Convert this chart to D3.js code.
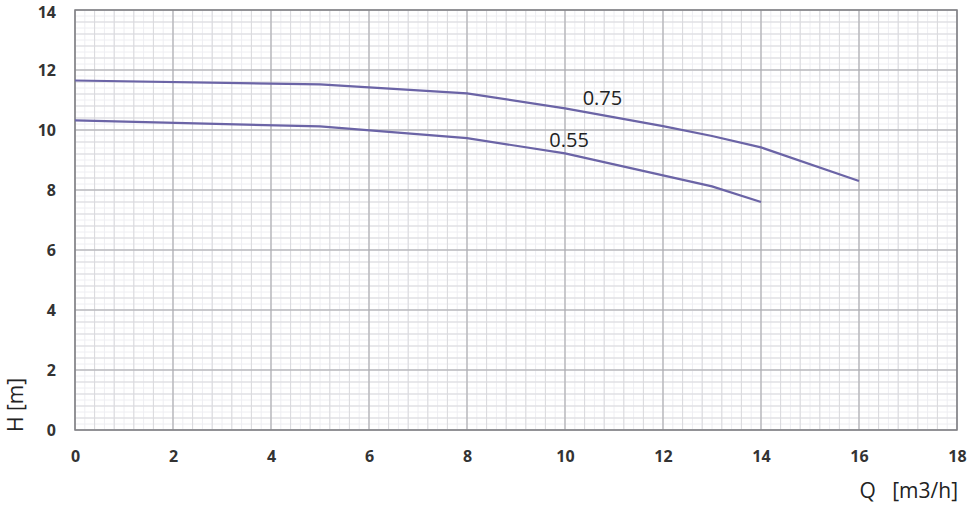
<!DOCTYPE html>
<html><head><meta charset="utf-8">
<script src="https://cdn.jsdelivr.net/npm/d3@7"></script>
<style>body{margin:0;background:#fff}svg{display:block}</style>
</head><body><div id="c"></div>
<script>
const xTicks = [0,2,4,6,8,10,12,14,16,18];
const yTicks = [0,2,4,6,8,10,12,14];
const qValues075 = [0,5,8,10,12,13,14,16];
const hValues075 = [11.65,11.52,11.22,10.72,10.13,9.8,9.42,8.3];
const qValues055 = [0,5,8,10,13,14];
const hValues055 = [10.32,10.12,9.73,9.22,8.12,7.6];
const seriesNames = ["0.75","0.55"];
const labelPos = [[10.36,10.83],[9.68,9.43]];

const W=968,H=506, m={l:75,r:11,t:10,b:76};
const svg=d3.select("#c").append("svg").attr("width",W).attr("height",H);
const x=d3.scaleLinear().domain([0,18]).range([m.l,W-m.r]);
const y=d3.scaleLinear().domain([0,14]).range([H-m.b,m.t]);
const g=svg.append("g");
g.selectAll(".fx").data(d3.range(0,18.001,0.2)).join("line")
 .attr("x1",d=>x(d)).attr("x2",d=>x(d)).attr("y1",y(0)).attr("y2",y(14))
 .attr("stroke","#eeeef2").attr("stroke-width",1);
g.selectAll(".fy").data(d3.range(0,14.001,0.2)).join("line")
 .attr("y1",d=>y(d)).attr("y2",d=>y(d)).attr("x1",x(0)).attr("x2",x(18))
 .attr("stroke","#eeeef2").attr("stroke-width",1);
g.selectAll(".mx").data(d3.range(0,18.001,0.4)).join("line")
 .attr("x1",d=>x(d)).attr("x2",d=>x(d)).attr("y1",y(0)).attr("y2",y(14))
 .attr("stroke","#d9d9dd").attr("stroke-width",1);
g.selectAll(".my").data(d3.range(0,14.001,0.4)).join("line")
 .attr("y1",d=>y(d)).attr("y2",d=>y(d)).attr("x1",x(0)).attr("x2",x(18))
 .attr("stroke","#d9d9dd").attr("stroke-width",1);
g.selectAll(".Mx").data(xTicks).join("line")
 .attr("x1",d=>x(d)).attr("x2",d=>x(d)).attr("y1",y(0)).attr("y2",y(14))
 .attr("stroke","#a9a9ad").attr("stroke-width",1);
g.selectAll(".My").data(yTicks).join("line")
 .attr("y1",d=>y(d)).attr("y2",d=>y(d)).attr("x1",x(0)).attr("x2",x(18))
 .attr("stroke","#a9a9ad").attr("stroke-width",1);
svg.append("rect").attr("x",x(0)).attr("y",y(14)).attr("width",x(18)-x(0)).attr("height",y(0)-y(14))
 .attr("fill","none").attr("stroke","#808084").attr("stroke-width",1.5);

const xa=svg.append("g").attr("transform",`translate(0,${y(0)})`)
 .call(d3.axisBottom(x).tickValues(xTicks).tickSize(0).tickPadding(21));
const ya=svg.append("g").attr("transform",`translate(${x(0)},0)`)
 .call(d3.axisLeft(y).tickValues(yTicks).tickSize(0).tickPadding(19));
[xa,ya].forEach(a=>{a.select(".domain").remove();
 a.attr("font-size",null).attr("font-family",null);
 a.selectAll("text").style("font-family","'Open Sans',sans-serif").style("font-weight","bold")
  .style("font-size","16px").attr("fill","#333");});
ya.selectAll("text").filter(d=>d===14).attr("dy","0.45em");

const line=d3.line().x(d=>x(d[0])).y(d=>y(d[1]));
const series=[d3.zip(qValues075,hValues075),d3.zip(qValues055,hValues055)];
svg.selectAll(".curve").data(series).join("path")
 .attr("d",line).attr("fill","none").attr("stroke","#6b64a6").attr("stroke-width",2.2);
svg.selectAll(".lab").data(seriesNames).join("text")
 .attr("x",(d,i)=>x(labelPos[i][0])).attr("y",(d,i)=>y(labelPos[i][1]))
 .text(d=>d).attr("font-family","'Open Sans',sans-serif").attr("font-size","20px").attr("fill","#222");

svg.append("text").attr("transform","translate(23,405) rotate(-90)").attr("text-anchor","middle")
 .attr("font-family","'Open Sans',sans-serif").attr("font-size","21px").attr("fill","#222").text("H [m]");
svg.append("text").attr("x",958).attr("y",498).attr("text-anchor","end").attr("xml:space","preserve")
 .attr("font-family","'Open Sans',sans-serif").attr("font-size","21px").attr("fill","#222").text("Q   [m3/h]");
</script></body></html>
